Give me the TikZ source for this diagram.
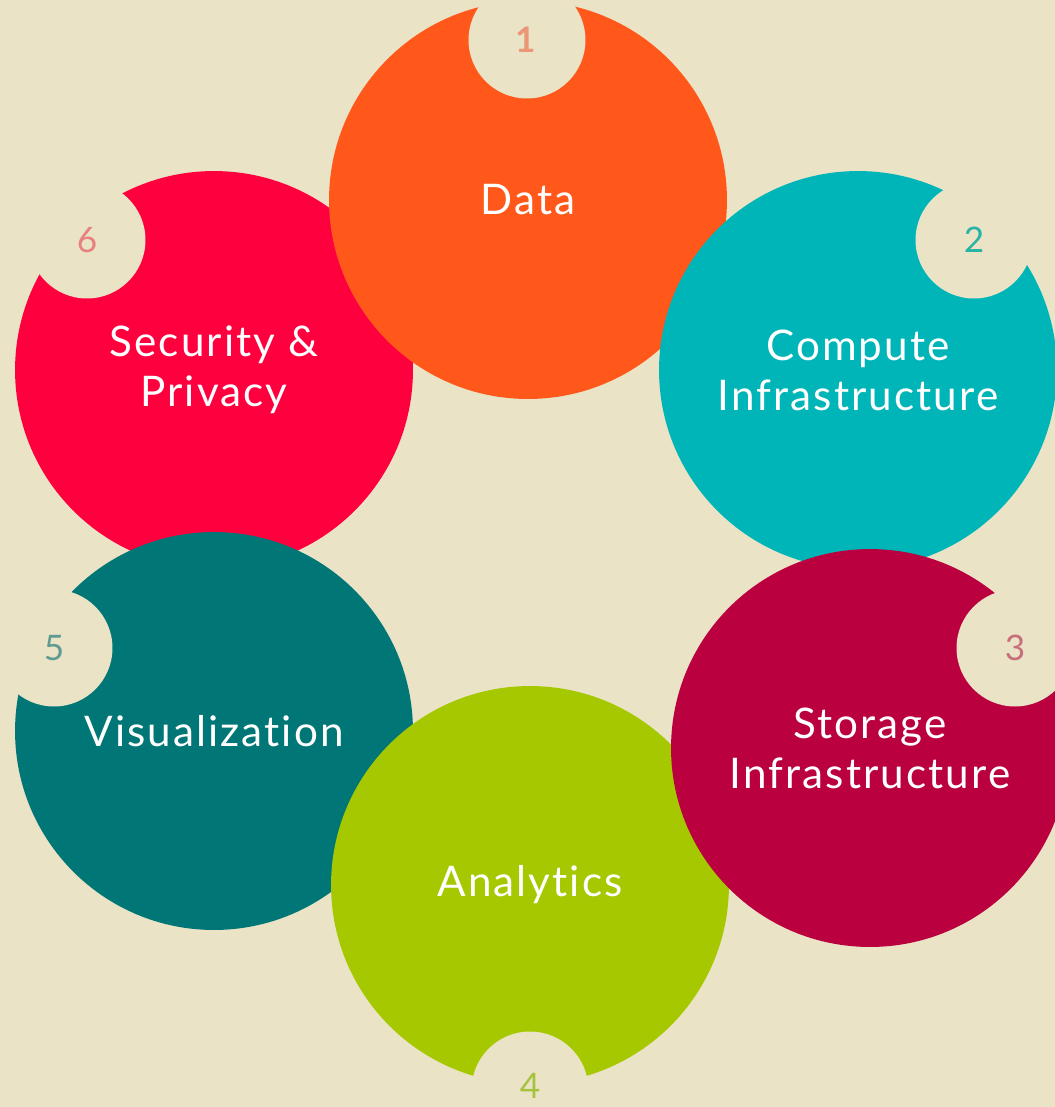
\documentclass[tikz,border=0pt]{standalone}
\usepackage{fontspec}
\setmainfont{Lato}[Ligatures=NoCommon, LetterSpace=5]
\definecolor{bg}{RGB}{234,227,198}
\definecolor{cData}{RGB}{255,88,26}
\definecolor{cComp}{RGB}{0,181,184}
\definecolor{cStor}{RGB}{186,0,62}
\definecolor{cAna}{RGB}{166,200,0}
\definecolor{cVis}{RGB}{0,118,118}
\definecolor{cSec}{RGB}{255,0,62}
\definecolor{nOne}{RGB}{236,150,120}
\definecolor{nTwo}{RGB}{40,180,165}
\definecolor{nThree}{RGB}{200,110,125}
\definecolor{nFour}{RGB}{165,195,60}
\definecolor{nFive}{RGB}{95,155,145}
\definecolor{nSix}{RGB}{232,128,128}
\tikzset{
  big/.style={circle, minimum size=7.96cm, inner sep=0pt, text=white, align=center,
    font=\fontsize{24}{28.5}\selectfont},
  notch/.style={circle, fill=bg, minimum size=2.34cm, inner sep=0pt,
    font=\fontsize{20}{24}\selectfont},
  numlab/.style={font=\fontsize{20}{24}\selectfont, inner sep=0pt}
}
\begin{document}
\begin{tikzpicture}[x=0.02cm,y=-0.02cm]
\fill[bg] (0,0) rectangle (1055,1107);
\useasboundingbox (0,0) rectangle (1055,1107);
\clip (0,0) rectangle (1055,1107);
% Security & Privacy
\node[big, fill=cSec] (sec) at (214,370) {Security \&\\Privacy};
\node[notch, text=nSix] (n6) at (87,240) {6};
% Visualization
\node[big, fill=cVis] (vis) at (214,731) {Visualization};
\node[notch, text=nFive] (n5) at (54,648) {5};
% Analytics
\node[big, fill=cAna] (ana) at (530,885) {Analytics};
\node[notch] (n4) at (530,1090) {};
\node[numlab, text=nFour] (l4) at (530,1086) {4};
% Data
\node[big, fill=cData] (dat) at (528,200) {Data};
\node[notch, text=nOne] (n1) at (527,40) {\textbf{1}};
% Compute Infrastructure
\node[big, fill=cComp] (com) at (858,370) {Compute\\Infrastructure};
\node[notch, text=nTwo] (n2) at (974,240) {2};
% Storage Infrastructure
\node[big, fill=cStor] (sto) at (870,748) {Storage\\Infrastructure};
\node[notch, text=nThree] (n3) at (1015,648) {3};
\end{tikzpicture}
\end{document}
